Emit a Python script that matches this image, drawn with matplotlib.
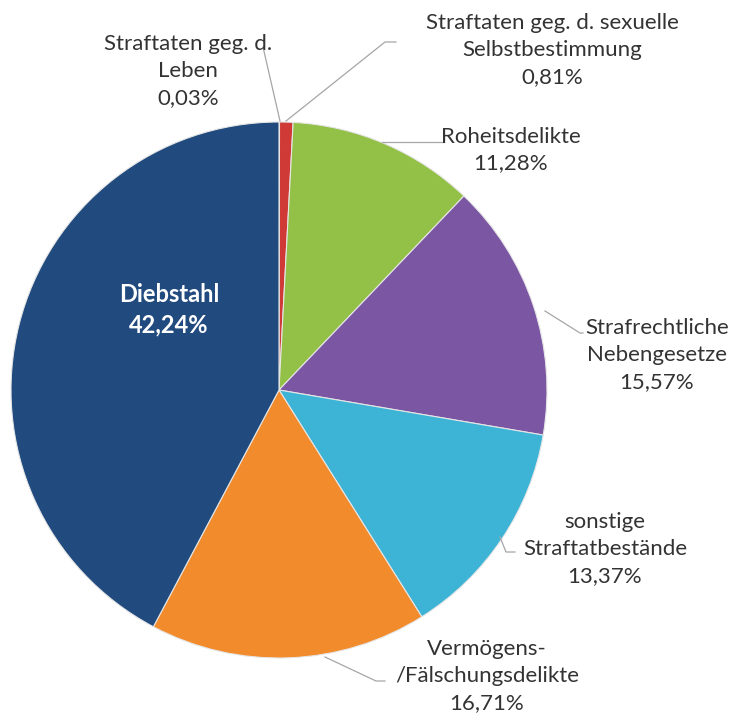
import matplotlib
matplotlib.use('Agg')
import matplotlib.pyplot as plt

# data (clockwise from 12 o'clock)
categories = ["Straftaten geg. d.\nLeben", "Straftaten geg. d. sexuelle\nSelbstbestimmung",
              "Roheitsdelikte", "Strafrechtliche\nNebengesetze", "sonstige\nStraftatbestände",
              "Vermögens-\n/Fälschungsdelikte", "Diebstahl"]
shares = [0.03, 0.81, 11.28, 15.57, 13.37, 16.71, 42.24]
share_labels = ["0,03%", "0,81%", "11,28%", "15,57%", "13,37%", "16,71%", "42,24%"]

colors = ["#a83a3a", "#d03a36", "#93c047", "#7b56a2", "#3db4d6", "#f28b2c", "#214b7e"]

W, H = 732, 718
fig = plt.figure(figsize=(W / 100, H / 100), dpi=100)
ax = fig.add_axes([0, 0, 1, 1])

cx, cy, r = 279, H - 390, 268
wedges, _ = ax.pie(shares, colors=colors, startangle=90, counterclock=False,
                   center=(cx, cy), radius=r, frame=True,
                   wedgeprops=dict(edgecolor="#e6e6e6", linewidth=0.8))
ax.set_xlim(0, W)
ax.set_ylim(0, H)
ax.set_aspect('equal')
ax.axis('off')

plt.rcParams['font.family'] = ['Lato', 'DejaVu Sans']
fs = 16

# label text positions (pixel coords, top-left origin) and leader lines
text_pos = [(188, 71), (552, 50), (511, 150), (657, 355), (605, 549), (487, 676)]
leaders = [
    [(280, 121), (263, 47)],
    [(286, 121), (385, 42), (396, 42)],
    [(382, 142), (444, 142)],
    [(545, 311), (580, 333), (583, 333)],
    [(500, 537), (506, 552), (515, 552)],
    [(325, 657), (376, 681), (385, 681)],
]

for i in range(6):
    tx, ty = text_pos[i]
    ax.text(tx, H - ty, categories[i] + "\n" + share_labels[i], ha='center', va='center',
            fontsize=fs, color="#333333", linespacing=1.42)
    xs = [p[0] for p in leaders[i]]
    ys = [H - p[1] for p in leaders[i]]
    ax.plot(xs, ys, color="#a6a6a6", lw=0.9)

ax.text(169, H - 310, categories[6] + "\n" + share_labels[6], ha='center', va='center',
        fontsize=17, color="white", fontweight='bold', linespacing=1.4)

fig.savefig("out.png", dpi=100, facecolor="white")
